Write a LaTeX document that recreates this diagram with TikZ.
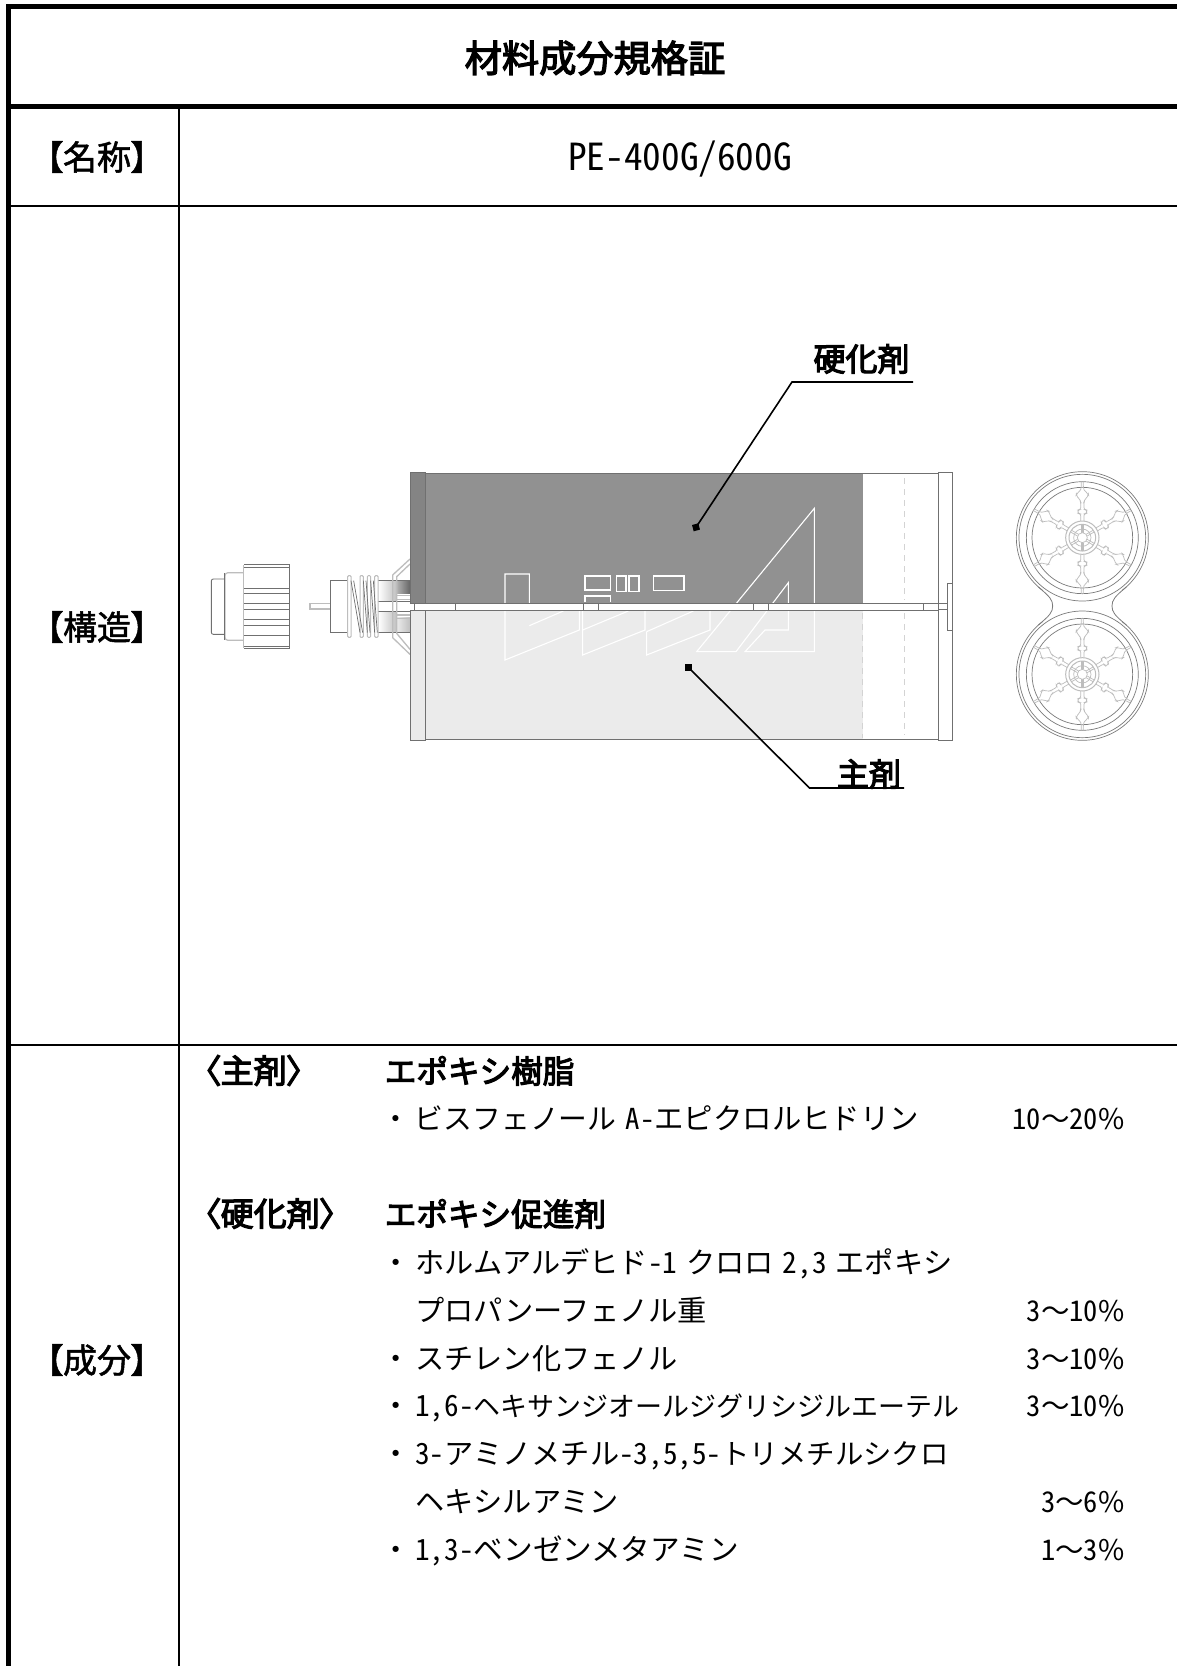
\documentclass[tikz,border=0pt]{standalone}
\usepackage{fontspec}
\setmainfont{Noto Sans CJK JP}
\newfontfamily\hw[RawFeature=+hwid]{Noto Sans CJK JP}
\newfontfamily\jpp[RawFeature=+palt,FakeBold=1.5]{Noto Sans CJK JP}
\newfontfamily\jpb[RawFeature=+palt,FakeBold=3.5]{Noto Sans CJK JP}
\newfontfamily\jsb[FakeBold=3.5]{Noto Sans CJK JP}
\newcommand{\lat}[1]{{\hw #1}}
\newcommand{\gap}{\hspace{9pt}}
\newcommand{\bul}{・\hspace{5pt}}
\newcommand{\fs}[1]{\fontsize{#1}{#1}\selectfont}
\definecolor{darkfill}{HTML}{919191}
\definecolor{collar}{HTML}{848484}
\definecolor{lightfill}{HTML}{EBEBEB}
\definecolor{edge}{HTML}{707070}
\definecolor{palegray}{HTML}{BDBDBD}
\definecolor{ringgray}{HTML}{7A7A7A}
\tikzset{
  frame/.style={line width=4.7pt,draw=black},
  rule/.style={line width=2pt,draw=black},
  body/.style={anchor=base west,inner sep=0pt,font=\fs{29.2}},
  pct/.style={anchor=base east,inner sep=0pt,font=\fs{28.5}},
  head/.style={anchor=base west,inner sep=0pt,font=\jsb\fs{31.6}},
  tag/.style={anchor=base west,inner sep=0pt,font=\jpb\fs{33}},
  rowlabel/.style={anchor=center,inner sep=0pt,font=\jpp\fs{34}},
  part/.style={draw=edge,line width=0.9pt},
  pale/.style={draw=palegray,line width=1.2pt},
  logo/.style={draw=white,line width=1.1pt,line join=miter},
  leader/.style={draw=black,line width=1.6pt},
  dot/.style={fill=black,draw=none,minimum size=6.5pt,inner sep=0pt},
  spokeline/.style={draw=palegray,line width=0.7pt},
  ring/.style={draw=ringgray,line width=0.7pt},
}
\begin{document}
\begin{tikzpicture}[x=1pt,y=-1pt]
\useasboundingbox (0,0) rectangle (1177,1666);
\fill[white] (0,0) rectangle (1177,1666);

% table
\draw[frame] (1177,6.3) -- (8.3,6.3) -- (8.3,1666);
\draw[frame] (8.3,106.3) -- (1177,106.3);
\draw[rule] (179,106.3) -- (179,1666);
\draw[rule] (8.3,205.5) -- (1177,205.5);
\draw[rule] (8.3,1045) -- (1177,1045);

\node[anchor=center,inner sep=0pt,font=\jsb\fs{37.2}] (title) at (595,58) {材料成分規格証};
\node[rowlabel] (lname) at (97,157) {【名称】};
\node[anchor=center,inner sep=0pt,font=\hw\fs{37.3}] (pname) at (680,159) {PE-400G/600G};
\node[rowlabel] (lstruct) at (97,627) {【構造】};
\node[rowlabel] (lcomp) at (97,1360) {【成分】};

% composition
\node[tag] (t1) at (204,1083) {〈主剤〉};
\node[head] (h1) at (384.6,1083) {エポキシ樹脂};
\node[body,font=\fs{28.8}] (b1) at (381,1129) {\bul ビスフェノール\gap\lat{A-}{\fs{29.4}エピクロルヒドリン}};
\node[pct] (p1) at (1124.5,1129) {\lat{10}〜\lat{20}\%};
\node[tag] (t2) at (204,1226) {〈硬化剤〉};
\node[head] (h2) at (384.6,1226) {エポキシ促進剤};
\node[body] (b2) at (381,1273) {\bul ホルムアルデヒド\lat{-1}\gap クロロ\gap\lat{2,3}\gap エポキシ};
\node[body] (b3) at (415,1321) {プロパンーフェノル重};
\node[pct] (p3) at (1124.5,1321) {\lat{3}〜\lat{10}\%};
\node[body] (b4) at (381,1369) {\bul スチレン化フェノル};
\node[pct] (p4) at (1124.5,1369) {\lat{3}〜\lat{10}\%};
\node[body] (b5) at (381,1416) {\bul \lat{1,6-}{\fs{27}ヘキサンジオールジグリシジルエーテル}};
\node[pct] (p5) at (1124.5,1416) {\lat{3}〜\lat{10}\%};
\node[body] (b6) at (381,1464) {\bul \lat{3-}アミノメチル\lat{-3,5,5-}{\fs{28.4}トリメチルシクロ}};
\node[body] (b7) at (415,1512) {ヘキシルアミン};
\node[pct] (p7) at (1124.5,1512) {\lat{3}〜\lat{6}\%};
\node[body] (b8) at (381,1560) {\bul \lat{1,3-}{\fs{29.6}ベンゼンメタアミン}};
\node[pct] (p8) at (1124.5,1560) {\lat{1}〜\lat{3}\%};

% --- nozzle and cartridge left side (zoom 1 coordinates)
\begin{scope}[xshift=190pt,yshift=-460pt,x=0.33333pt,y=-0.33333pt]
  % cap
  \draw[part,rounded corners=2pt] (104,357) -- (64,357) -- (64,523) -- (104,523);
  \draw[pale,rounded corners=3pt] (160,338) -- (105,338) -- (105,541) -- (160,541);
  \draw[part,line width=0.8pt] (104,340) -- (104,540);
  \draw[part] (163,313) -- (298,313) -- (298,566) -- (163,566);
  \draw[pale] (160,316) -- (160,563);
  \foreach \yy in {322,385,400,430,447,478,495,525,558}
    \draw[part,line width=0.7pt] (163,\yy) -- (298,\yy);
  % needle
  \draw[pale] (421,431) -- (360,431) -- (360,447) -- (421,447);
  % body
  \draw[part] (472,360) -- (421,360) -- (421,518) -- (472,518);
  \fill[left color=white,right color=white!75!black] (565,362) rectangle (620,518);
  \fill[left color=white!70!black,right color=black!60] (620,362) rectangle (660,400);
  \fill[left color=white!92!black,right color=white!75!black] (620,472) rectangle (660,518);
  \fill[white] (565,425) rectangle (672,455);
  \draw[part,line width=0.7pt] (565,425) -- (660,425) (565,455) -- (660,455) (565,518) -- (660,518) (565,362) -- (660,362);
  % thread posts
  \foreach \xa/\xb in {473/483,510/520,532/542,554/564}
    \draw[pale,fill=white,line width=1pt,rounded corners=1pt] (\xa,347) rectangle (\xb,532);
  \foreach \xa/\xb in {483/510,520/532,542/554}{
    \draw[part,line width=0.7pt] (\xa,362) -- (\xb,518);
    \draw[part,line width=0.7pt] (\xa+8,362) -- (\xb+8,518);
  }
  % flange
  \draw[pale,fill=none,line width=1.3pt] (660,297) -- (608,345) -- (608,533) -- (660,583);
  \draw[pale,line width=1.3pt] (660,312) -- (620,350) -- (620,520) -- (660,568);
  \draw[pale,line width=1.3pt] (620,407) -- (660,407) (620,418) -- (660,418) (620,465) -- (660,465) (620,475) -- (660,475);
  \draw[part,fill=white] (660,370) -- (672,370) -- (672,510) -- (660,510);
\end{scope}

% --- cartridge (page coordinates)
\fill[darkfill] (425,473) rectangle (862.5,603);
\fill[lightfill] (425,610) rectangle (862.5,740);
\fill[collar] (410,472) rectangle (425,603);
\fill[lightfill] (410,610) rectangle (425,741);
% logo (zoom 2 coordinates)
\begin{scope}[xshift=480pt,yshift=-460pt,x=0.33333pt,y=-0.33333pt]
  \draw[logo] (148,453) -- (148,342) -- (75,342) -- (75,600) -- (298,510) -- (298,453);
  \draw[logo] (148,497) -- (250,453);
  \draw[logo] (308,453) -- (308,585) -- (495,510) -- (495,453);
  \draw[logo] (308,510) -- (445,453);
  \draw[logo] (500,515) -- (500,585) -- (690,510) -- (690,453);
  \draw[logo] (500,515) -- (640,453);
  \draw[logo] (315,348) rectangle (392,390);
  \draw[logo] (410,348) rectangle (438,395);
  \draw[logo] (447,348) rectangle (477,395);
  \draw[logo] (520,348) rectangle (612,392);
  \draw[logo] (315,426) -- (315,408) -- (392,408) -- (392,426);
  \draw[logo] (925,368) -- (768,575) -- (650,575) -- (1003,145) -- (1003,575) -- (795,575) -- (855,510) -- (925,510) -- cycle;
\end{scope}
% band and outlines
\fill[white] (425,603) rectangle (938,610);
\draw[part] (425,603) -- (938,603) (425,610.5) -- (938,610.5);
\draw[part] (425.3,473.3) -- (938,473.3) (425.3,739.3) -- (938,739.3);
\draw[part] (410,472.3) rectangle (425.3,603);
\draw[part] (410,610.5) rectangle (425.3,740.5);
\draw[part,line width=0.6pt] (455,603) -- (455,610.5);
\draw[part,line width=0.6pt] (583,603) -- (583,610.5) (598,603) -- (598,610.5);
\draw[part,line width=0.6pt] (753,603) -- (753,610.5) (768,603) -- (768,610.5);
\draw[part,line width=0.6pt] (923,603) -- (923,610.5);
\draw[part] (938,472) rectangle (952.7,740.7);
\draw[part] (947.7,583) rectangle (952.7,630);
\draw[part,line width=0.6pt] (938,603.5) -- (947.7,603.5) (938,609.5) -- (947.7,609.5);
\draw[draw=lightfill!90!black,line width=0.8pt,dash pattern=on 6pt off 5pt] (904,478) -- (904,600) (904,613) -- (904,735) (862.5,613) -- (862.5,738);

% leaders
\node[dot,rotate=15] (sqA) at (696,527.3) {};
\node[dot] (sqB) at (688.7,667.7) {};
\coordinate (elbA) at (792,382);
\coordinate (endA) at (913,382);
\coordinate (elbB) at (809.5,788);
\coordinate (endB) at (904,788);
\draw[leader] (sqA.center) -- (elbA) -- (endA);
\draw[leader] (sqB.center) -- (elbB) -- (endB);
\node[anchor=center,inner sep=0pt,font=\jsb\fs{32}] (lblA) at (861.5,359) {硬化剤};
\node[anchor=center,inner sep=0pt,font=\jsb\fs{32}] (lblB) at (869,774) {主剤};

% end view (zoom 3 coordinates)
\begin{scope}[xshift=830pt,yshift=-460pt,x=0.33333pt,y=-0.33333pt]
  \draw[ring] (757,233) circle [radius=198];
  \draw[ring] (757,643) circle [radius=198];
  \fill[white] (640,380) rectangle (875,500);
  \draw[ring,line width=0.8pt] (625,381) .. controls (660,410) and (668,420) .. (668,438) .. controls (668,456) and (660,466) .. (625,495);
  \draw[ring,line width=0.8pt] (889,381) .. controls (854,410) and (846,420) .. (846,438) .. controls (846,456) and (854,466) .. (889,495);
  \foreach \cy in {233,643}{
    \draw[ring] (757,\cy) circle [radius=190];
    \draw[ring] (757,\cy) circle [radius=168];
    \draw[ring] (757,\cy) circle [radius=151];
    \draw[spokeline,line width=1pt] (757,\cy) circle [radius=50];
    \draw[spokeline,line width=1pt] (757,\cy) circle [radius=40];
    \draw[spokeline] (757,\cy) circle [radius=26];
    \draw[spokeline] (757,\cy) circle [radius=15];
    \fill[palegray] (754,\cy-40) rectangle (760,\cy-15) (754,\cy+15) rectangle (760,\cy+40);
    \foreach \aa in {30,90,...,330}{
      \begin{scope}[shift={(757,\cy)},rotate=\aa]
        \draw[spokeline] (15,-3) -- (40,-3) (15,3) -- (40,3);
        \draw[spokeline,rounded corners=2pt] (50,5) -- (72,5) -- (72,13) -- (84,13) -- (84,5) -- (108,5) -- (116,8) -- (126,19) -- (133,18) -- (138,7) -- (150,3) -- (168,3);
        \draw[spokeline,rounded corners=2pt] (50,-5) -- (72,-5) -- (72,-13) -- (84,-13) -- (84,-5) -- (108,-5) -- (116,-8) -- (126,-19) -- (133,-18) -- (138,-7) -- (150,-3) -- (168,-3);
      \end{scope}
    }
  }
\end{scope}
\end{tikzpicture}
\end{document}
